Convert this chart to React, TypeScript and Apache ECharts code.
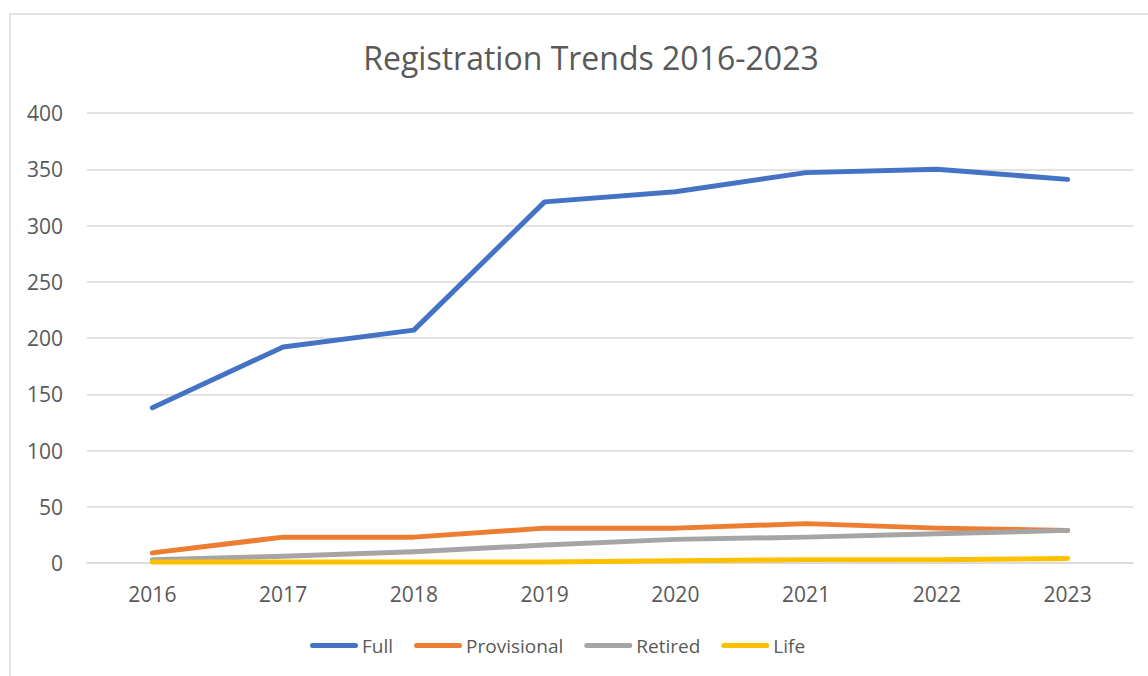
import React, { useEffect, useRef } from "react";
import * as echarts from "echarts";

const years = ["2016", "2017", "2018", "2019", "2020", "2021", "2022", "2023"];
const full = [138, 192, 207, 321, 330, 347, 350, 341];
const provisional = [9, 23, 23, 31, 31, 35, 31, 29];
const retired = [3, 6, 10, 16, 21, 23, 26, 29];
const life = [1, 1, 1, 1, 2, 3, 3, 4];

const seriesNames = ["Full", "Provisional", "Retired", "Life"];
const seriesColors = ["#4472C4", "#ED7D31", "#A5A5A5", "#FFC000"];
const seriesData = [full, provisional, retired, life];

const FONT = "'Open Sans', 'Noto Sans', sans-serif";
const CAPSULE = "path://M2.5,0 H45.5 A2.5,2.5 0 0 1 45.5,5 H2.5 A2.5,2.5 0 0 1 2.5,0 Z";

export default function App() {
  const ref = useRef<HTMLDivElement>(null);
  useEffect(() => {
    if (!ref.current) return;
    const chart = echarts.init(ref.current, null, { renderer: "svg" });
    chart.setOption({
      animation: false,
      backgroundColor: "#ffffff",
      title: {
        text: "Registration Trends 2016-2023",
        left: 586,
        textAlign: "center",
        top: 36,
        textStyle: { fontFamily: FONT, fontSize: 32, fontWeight: "normal", color: "#595959" },
      },
      graphic: [
        {
          type: "rect",
          shape: { x: 10, y: 14, width: 1160, height: 700 },
          style: { fill: "none", stroke: "#d9d9d9", lineWidth: 1.5 },
          silent: true,
        },
      ],
      legend: {
        data: seriesNames.map((n) => ({ name: n, icon: CAPSULE })),
        bottom: 16,
        left: 305,
        itemWidth: 48,
        itemHeight: 5,
        itemGap: 21,
        textStyle: { fontFamily: FONT, fontSize: 19, color: "#595959", padding: [0, 0, 0, -1] },
      },
      grid: { left: 87, right: 15, top: 113, bottom: 113, containLabel: false },
      xAxis: {
        type: "category",
        data: years,
        boundaryGap: true,
        axisLine: { show: true, lineStyle: { color: "#d9d9d9", width: 1.5 } },
        axisTick: { show: false },
        axisLabel: { fontFamily: FONT, fontSize: 21, color: "#595959", margin: 20 },
      },
      yAxis: {
        type: "value",
        min: 0,
        max: 400,
        interval: 50,
        axisLine: { show: false },
        axisTick: { show: false },
        splitLine: { lineStyle: { color: "#d9d9d9", width: 1.5 } },
        axisLabel: { fontFamily: FONT, fontSize: 21, color: "#595959", margin: 24 },
      },
      series: seriesNames.map((name, i) => ({
        name,
        type: "line",
        data: seriesData[i],
        symbol: "none",
        color: seriesColors[i],
        lineStyle: { width: 5, color: seriesColors[i], cap: "round", join: "round" },
      })),
    });
    return () => chart.dispose();
  }, []);
  return (
    <div
      ref={ref}
      style={{ position: "fixed", left: 0, top: 0, width: 1148, height: 676 }}
    />
  );
}
